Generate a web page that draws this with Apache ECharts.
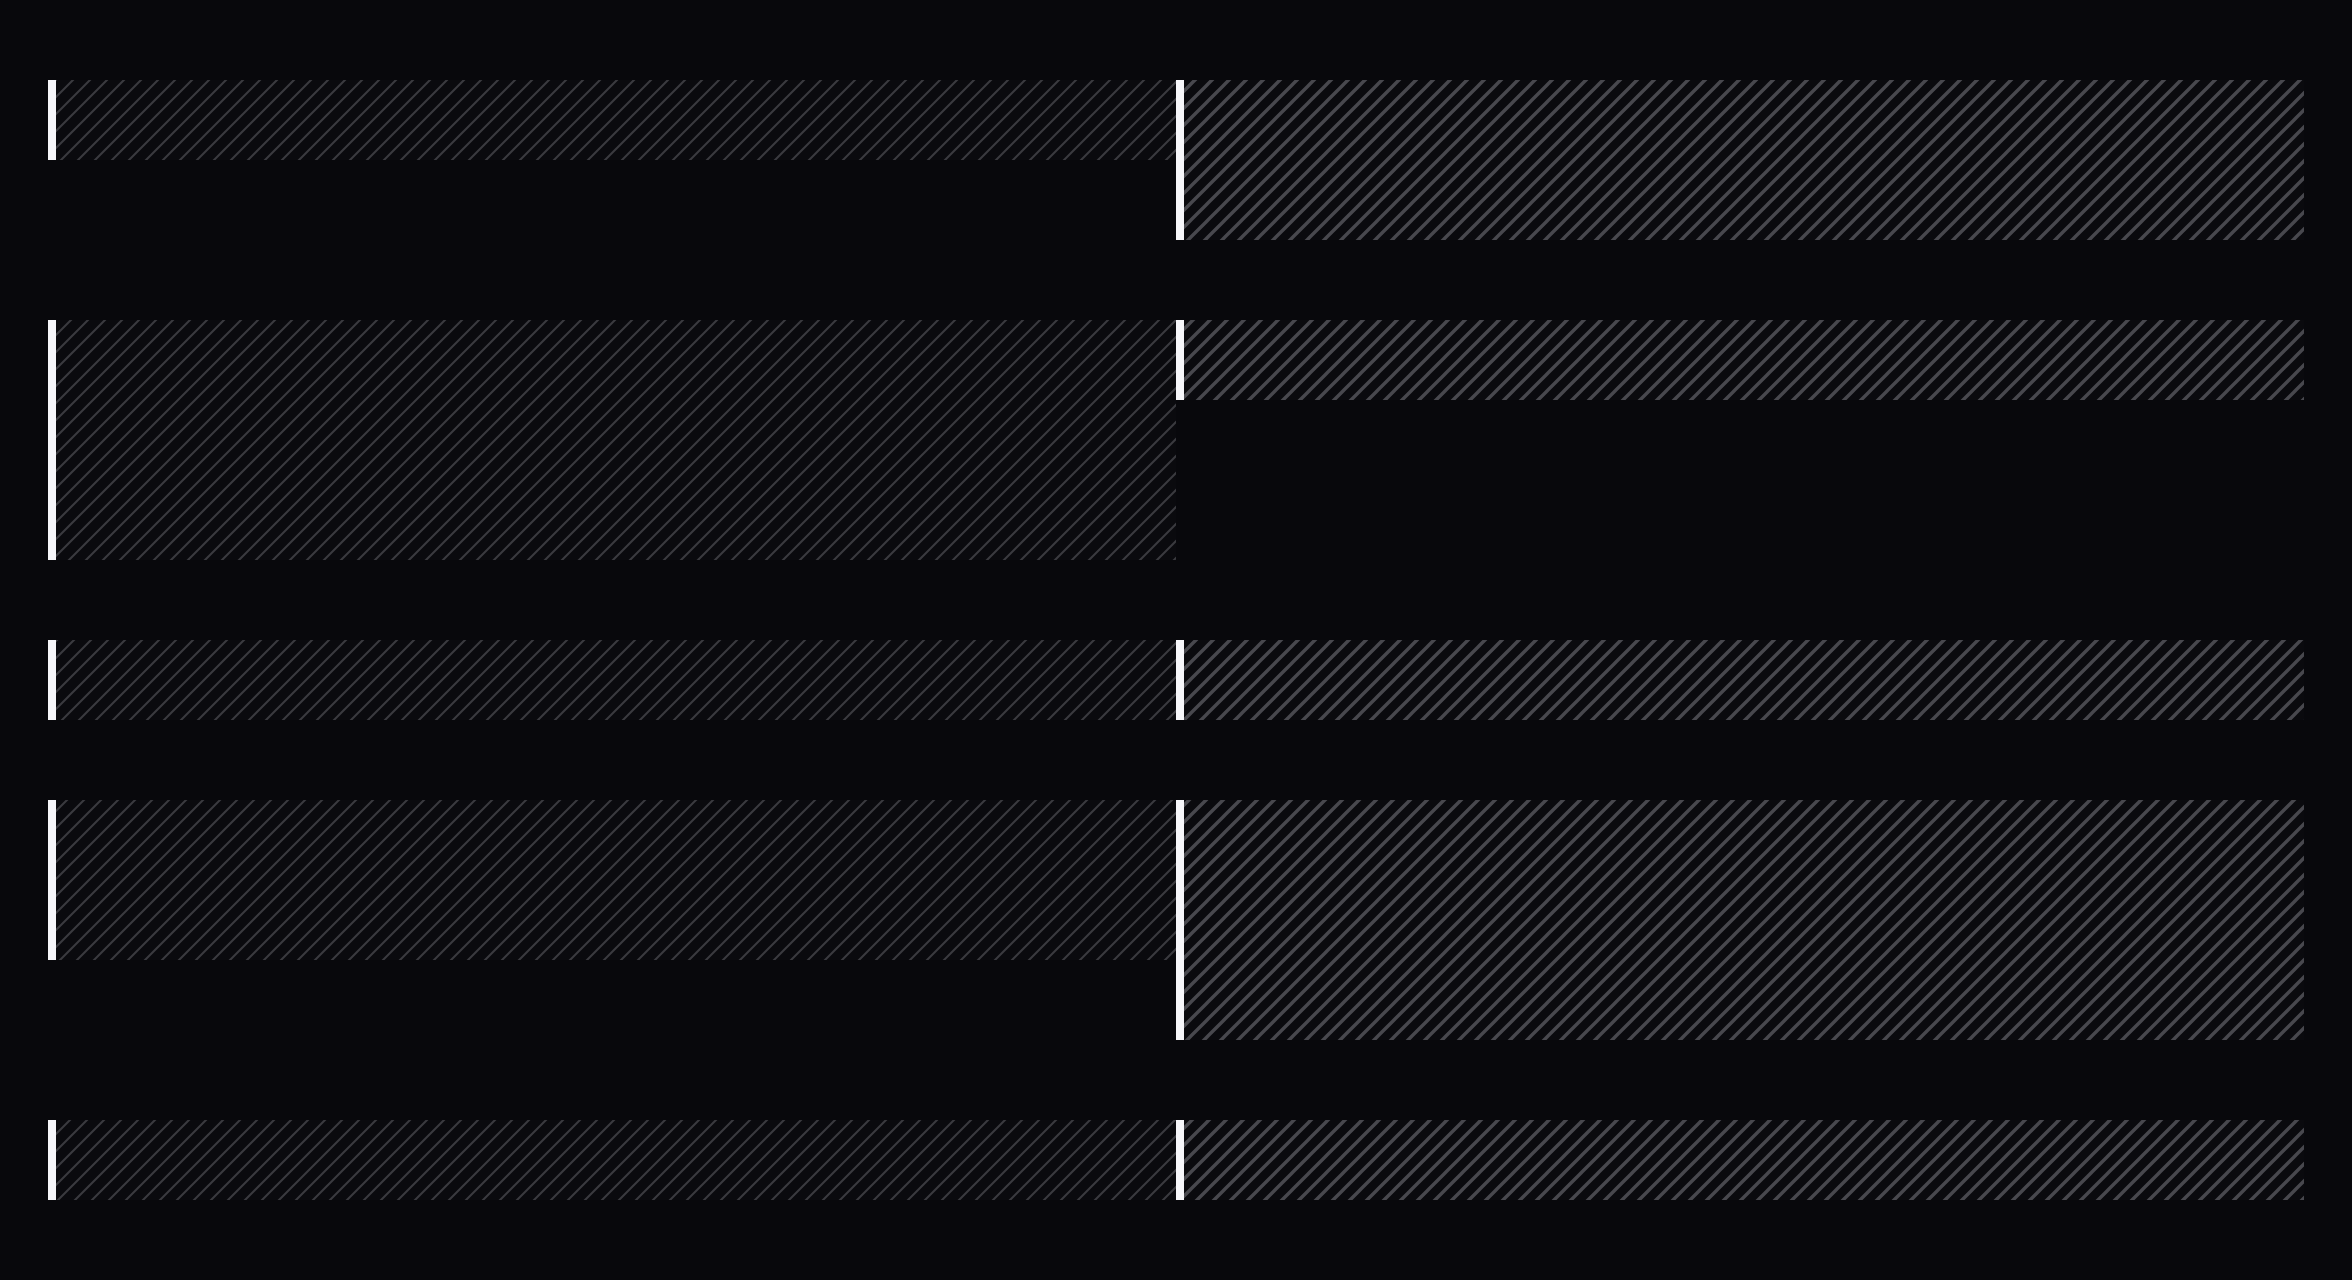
<!DOCTYPE html>
<html>
<head>
<meta charset="utf-8">
<script src="https://cdn.jsdelivr.net/npm/echarts@6/dist/echarts.min.js"></script>
<style>
  html, body { margin: 0; padding: 0; background: #08080c; }
  #chart { width: 2352px; height: 1280px; }
</style>
</head>
<body>
<div id="chart"></div>
<script>
// ---- data ----
const columns = ['Left', 'Right'];
const rowNames = ['Row 1', 'Row 2', 'Row 3', 'Row 4', 'Row 5'];
const leftHeights = [1, 3, 1, 2, 1];
const rightHeights = [2, 1, 1, 3, 1];
const rowGap = 1;

// ---- layout in data units ----
const rowStarts = [];
let acc = 0;
rowNames.forEach((r, i) => {
  rowStarts.push(acc);
  acc += Math.max(leftHeights[i], rightHeights[i]) + rowGap;
});
const totalY = acc - rowGap;

const items = [];
rowNames.forEach((r, i) => {
  items.push([0, rowStarts[i], leftHeights[i]]);
  items.push([1, rowStarts[i], rightHeights[i]]);
});

function makeHatch(lineColor, lineWidth) {
  const T = 17;
  const c = document.createElement('canvas');
  c.width = T; c.height = T;
  const ctx = c.getContext('2d');
  ctx.fillStyle = '#0a0a0e';
  ctx.fillRect(0, 0, T, T);
  ctx.strokeStyle = lineColor;
  ctx.lineWidth = lineWidth;
  ctx.lineCap = 'square';
  ctx.beginPath();
  ctx.moveTo(0, T); ctx.lineTo(T, 0);
  ctx.moveTo(-3, 3); ctx.lineTo(3, -3);
  ctx.moveTo(T - 3, T + 3); ctx.lineTo(T + 3, T - 3);
  ctx.stroke();
  return { image: c, repeat: 'repeat' };
}
const hatches = [makeHatch('#3a3a3f', 2.1), makeHatch('#48484e', 3.4)];

const chart = echarts.init(document.getElementById('chart'));
chart.setOption({
  backgroundColor: '#08080c',
  animation: false,
  grid: { left: 48, right: 48, top: 80, bottom: 80 },
  xAxis: { type: 'value', min: 0, max: columns.length, show: false },
  yAxis: { type: 'value', min: 0, max: totalY, inverse: true, show: false },
  series: [{
    type: 'custom',
    data: items,
    renderItem: function (params, api) {
      const col = api.value(0), start = api.value(1), h = api.value(2);
      const p0 = api.coord([col, start]);
      const p1 = api.coord([col + 1, start + h]);
      const x = p0[0], y = p0[1], w = p1[0] - p0[0], hh = p1[1] - p0[1];
      return {
        type: 'group',
        children: [
          { type: 'rect', shape: { x: x, y: y, width: w, height: hh },
            style: { fill: hatches[col] } },
          { type: 'rect', shape: { x: x, y: y, width: 8, height: hh },
            style: { fill: '#f6f6fa' } }
        ]
      };
    }
  }]
});
</script>
</body>
</html>
